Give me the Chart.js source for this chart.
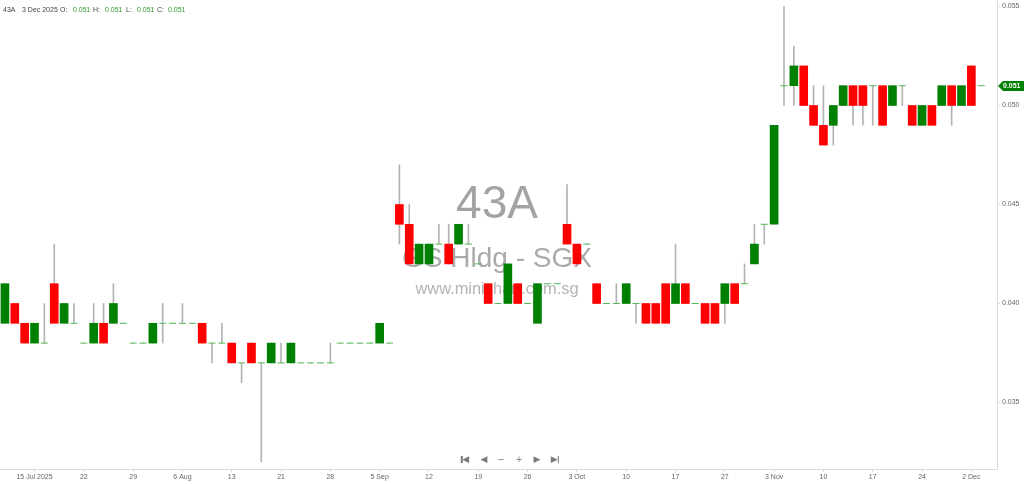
<!DOCTYPE html>
<html>
<head>
<meta charset="utf-8">
<title>43A</title>
<script src="https://cdn.jsdelivr.net/npm/chart.js@4.4.1/dist/chart.umd.min.js"></script>
<style>
    html, body { margin: 0; padding: 0; background: #fff; }
    #wrap { position: relative; width: 1024px; height: 484px; }
    .hd { position: absolute; top: 6px; line-height: 8px; font: 7px "Liberation Sans", Arial, sans-serif; color: #444; white-space: nowrap; }
    .hd.v { color: #2e9e2e; }
    .nav { position: absolute; top: 454px; line-height: 12px; font: 9px "DejaVu Sans", sans-serif; color: #7a7a7a; transform: translateX(-50%); white-space: nowrap; }
    .nav i { display: inline-block; width: 1.5px; height: 7px; background: #7a7a7a; vertical-align: -0.5px; }
</style>
</head>
<body>
<div id="wrap">
    <canvas id="chart"></canvas>
    <span class="hd" style="left:3px">43A</span>
    <span class="hd" style="left:22px">3 Dec 2025</span>
    <span class="hd" style="left:60px">O:</span>
    <span class="hd v" style="left:73px">0.051</span>
    <span class="hd" style="left:93px">H:</span>
    <span class="hd v" style="left:105px">0.051</span>
    <span class="hd" style="left:126px">L:</span>
    <span class="hd v" style="left:137px">0.051</span>
    <span class="hd" style="left:157px">C:</span>
    <span class="hd v" style="left:168px">0.051</span>
    <span class="nav" style="left:465px"><i></i>◀</span>
    <span class="nav" style="left:484px">◀</span>
    <span class="nav" style="left:501px">−</span>
    <span class="nav" style="left:519px">+</span>
    <span class="nav" style="left:537px">▶</span>
    <span class="nav" style="left:555px">▶<i></i></span>
</div>
<script>
// daily candles, 10 Jul 2025 .. 3 Dec 2025 (index = trading day)
const opens = [
    0.039, 0.040, 0.039, 0.038, 0.038, 0.041, 0.039, 0.039, 0.038, 0.038,
    0.039, 0.039, 0.039, 0.038, 0.038, 0.038, 0.039, 0.039, 0.039, 0.039,
    0.039, 0.038, 0.038, 0.038, 0.037, 0.038, 0.037, 0.037, 0.037, 0.037,
    0.037, 0.037, 0.037, 0.037, 0.038, 0.038, 0.038, 0.038, 0.038, 0.038,
    0.045, 0.044, 0.042, 0.042, 0.043, 0.043, 0.043, 0.043, 0.042, 0.041,
    0.040, 0.040, 0.041, 0.040, 0.039, 0.041, 0.041, 0.044, 0.043, 0.043,
    0.041, 0.040, 0.040, 0.040, 0.040, 0.040, 0.040, 0.041, 0.040, 0.041,
    0.040, 0.040, 0.040, 0.040, 0.041, 0.041, 0.042, 0.044, 0.044, 0.051,
    0.051, 0.052, 0.050, 0.049, 0.049, 0.050, 0.051, 0.051, 0.051, 0.051,
    0.050, 0.051, 0.050, 0.049, 0.050, 0.050, 0.051, 0.050, 0.052, 0.051
];
const highs = [
    0.041, 0.040, 0.039, 0.039, 0.040, 0.043, 0.040, 0.040, 0.038, 0.040,
    0.040, 0.041, 0.039, 0.038, 0.038, 0.039, 0.040, 0.039, 0.040, 0.039,
    0.039, 0.038, 0.039, 0.038, 0.037, 0.038, 0.037, 0.038, 0.038, 0.038,
    0.037, 0.037, 0.037, 0.038, 0.038, 0.038, 0.038, 0.038, 0.039, 0.038,
    0.047, 0.045, 0.043, 0.043, 0.044, 0.044, 0.044, 0.044, 0.042, 0.041,
    0.040, 0.042, 0.041, 0.040, 0.041, 0.041, 0.041, 0.046, 0.043, 0.043,
    0.041, 0.040, 0.041, 0.041, 0.040, 0.040, 0.040, 0.041, 0.043, 0.041,
    0.040, 0.040, 0.040, 0.041, 0.041, 0.042, 0.044, 0.044, 0.049, 0.055,
    0.053, 0.052, 0.051, 0.051, 0.050, 0.051, 0.051, 0.051, 0.051, 0.051,
    0.051, 0.051, 0.050, 0.050, 0.050, 0.051, 0.051, 0.051, 0.052, 0.051
];
const lows = [
    0.039, 0.039, 0.038, 0.038, 0.038, 0.039, 0.039, 0.039, 0.038, 0.038,
    0.038, 0.039, 0.039, 0.038, 0.038, 0.038, 0.038, 0.039, 0.039, 0.039,
    0.038, 0.037, 0.038, 0.037, 0.036, 0.037, 0.032, 0.037, 0.037, 0.037,
    0.037, 0.037, 0.037, 0.037, 0.038, 0.038, 0.038, 0.038, 0.038, 0.038,
    0.043, 0.042, 0.042, 0.042, 0.043, 0.042, 0.043, 0.043, 0.042, 0.040,
    0.040, 0.040, 0.040, 0.040, 0.039, 0.041, 0.041, 0.043, 0.042, 0.043,
    0.040, 0.040, 0.040, 0.040, 0.039, 0.039, 0.039, 0.039, 0.040, 0.040,
    0.040, 0.039, 0.039, 0.039, 0.040, 0.041, 0.042, 0.043, 0.044, 0.050,
    0.050, 0.050, 0.049, 0.048, 0.048, 0.050, 0.049, 0.049, 0.049, 0.049,
    0.050, 0.050, 0.049, 0.049, 0.049, 0.050, 0.049, 0.050, 0.050, 0.051
];
const closes = [
    0.041, 0.039, 0.038, 0.039, 0.038, 0.039, 0.040, 0.039, 0.038, 0.039,
    0.038, 0.040, 0.039, 0.038, 0.038, 0.039, 0.039, 0.039, 0.039, 0.039,
    0.038, 0.038, 0.038, 0.037, 0.037, 0.037, 0.037, 0.038, 0.037, 0.038,
    0.037, 0.037, 0.037, 0.037, 0.038, 0.038, 0.038, 0.038, 0.039, 0.038,
    0.044, 0.042, 0.043, 0.043, 0.043, 0.042, 0.044, 0.043, 0.042, 0.040,
    0.040, 0.042, 0.040, 0.040, 0.041, 0.041, 0.041, 0.043, 0.042, 0.043,
    0.040, 0.040, 0.040, 0.041, 0.040, 0.039, 0.039, 0.039, 0.041, 0.040,
    0.040, 0.039, 0.039, 0.041, 0.040, 0.041, 0.043, 0.044, 0.049, 0.051,
    0.052, 0.050, 0.049, 0.048, 0.050, 0.051, 0.050, 0.050, 0.051, 0.049,
    0.051, 0.051, 0.049, 0.050, 0.049, 0.051, 0.050, 0.051, 0.050, 0.051
];

// x axis labels (bar index -> text)
const tickIdx = [3, 8, 13, 18, 23, 28, 33, 38, 43, 48, 53, 58, 63, 68, 73, 78, 83, 88, 93, 98];
const tickText = ['15 Jul 2025', '22', '29', '6 Aug', '13', '21', '28', '5 Sep', '12', '19',
                  '26', '3 Oct', '10', '17', '27', '3 Nov', '10', '17', '24', '2 Dec'];
const yTicks = [0.035, 0.040, 0.045, 0.050, 0.055];

const colors = {
    up: '#008000',
    down: '#ff0000',
    flat: '#55b855',
    wick: '#b3b3b3',
    axis: '#dcdcdc',
    text: '#666'
};

const wickData = opens.map((o, i) => ({ x: i, y: [lows[i], highs[i]] }));
const bodyData = opens.map((o, i) => ({
    x: i,
    y: o === closes[i] ? null : [Math.min(o, closes[i]), Math.max(o, closes[i])]
}));
const bodyColors = opens.map((o, i) => closes[i] > o ? colors.up : colors.down);
const flatData = opens
    .map((o, i) => ({ x: i, y: closes[i] }))
    .filter((p, i) => opens[i] === closes[i]);

// watermark behind the candles
const watermark = {
    id: 'watermark',
    beforeDatasetsDraw(chart) {
        const ctx = chart.ctx;
        const cx = 497;
        ctx.save();
        ctx.textAlign = 'center';
        ctx.textBaseline = 'alphabetic';
        ctx.fillStyle = '#a3a3a3';
        ctx.font = '46px "Liberation Sans", Arial, sans-serif';
        ctx.fillText('43A', cx, 218);
        ctx.fillStyle = '#aaaaaa';
        ctx.font = '28px "Liberation Sans", Arial, sans-serif';
        ctx.fillText('GS Hldg - SGX', cx, 267);
        ctx.fillStyle = '#b4b4b4';
        ctx.font = '16.4px "Liberation Sans", Arial, sans-serif';
        ctx.fillText('www.minichart.com.sg', cx, 294);
        ctx.restore();
    }
};

// last price tag on the price axis
const lastTag = {
    id: 'lastTag',
    afterDraw(chart) {
        const ctx = chart.ctx;
        const yScale = chart.scales.y;
        const last = closes[closes.length - 1];
        const y = Math.round(yScale.getPixelForValue(last));
        const x0 = chart.chartArea.right;
        ctx.save();
        ctx.fillStyle = colors.up;
        ctx.beginPath();
        ctx.moveTo(x0 + 1, y);
        ctx.lineTo(x0 + 6, y - 5);
        ctx.lineTo(1024, y - 5);
        ctx.lineTo(1024, y + 5);
        ctx.lineTo(x0 + 6, y + 5);
        ctx.closePath();
        ctx.fill();
        ctx.fillStyle = '#fff';
        ctx.font = 'bold 7px "Liberation Sans", Arial, sans-serif';
        ctx.textBaseline = 'middle';
        ctx.fillText(last.toFixed(3), x0 + 6, y + 0.5);
        ctx.restore();
    }
};

const canvas = document.getElementById('chart');

new Chart(canvas, {
    type: 'bar',
    data: {
        datasets: [
            {
                label: 'wick',
                data: wickData,
                backgroundColor: colors.wick,
                barThickness: 1,
                grouped: false,
                order: 3
            },
            {
                label: 'body',
                data: bodyData,
                backgroundColor: bodyColors,
                barThickness: 8,
                grouped: false,
                order: 2
            },
            {
                type: 'scatter',
                label: 'flat',
                data: flatData,
                pointStyle: 'line',
                pointRadius: 3.5,
                pointHoverRadius: 3.5,
                borderColor: colors.flat,
                backgroundColor: colors.flat,
                borderWidth: 1,
                clip: false,
                order: 1
            }
        ]
    },
    options: {
        responsive: true,
        maintainAspectRatio: false,
        animation: false,
        layout: { padding: 0, autoPadding: false },
        plugins: {
            legend: { display: false },
            tooltip: { enabled: false }
        },
        scales: {
            x: {
                type: 'linear',
                min: -0.5,
                max: 100.6,
                offset: false,
                afterBuildTicks: scale => { scale.ticks = tickIdx.map(v => ({ value: v })); },
                afterFit: scale => {
                    scale.height = 15;
                    scale.paddingLeft = 0;
                    scale.paddingRight = 0;
                },
                grid: { display: true, offset: false, drawOnChartArea: false, drawTicks: true, tickLength: 3, color: colors.axis },
                border: { display: true, color: colors.axis },
                ticks: {
                    autoSkip: false,
                    maxRotation: 0,
                    padding: 1,
                    color: colors.text,
                    font: { family: '"Liberation Sans", Arial, sans-serif', size: 7 },
                    callback: value => tickText[tickIdx.indexOf(value)] || ''
                }
            },
            y: {
                position: 'right',
                min: 0.031641,
                max: 0.055328,
                afterBuildTicks: scale => { scale.ticks = yTicks.map(v => ({ value: v })); },
                afterFit: scale => {
                    scale.width = 27;
                    scale.paddingTop = 0;
                    scale.paddingBottom = 0;
                },
                grid: { display: true, offset: false, drawOnChartArea: false, drawTicks: true, tickLength: 3, color: colors.axis },
                border: { display: true, color: colors.axis },
                ticks: {
                    padding: 2,
                    color: colors.text,
                    font: { family: '"Liberation Sans", Arial, sans-serif', size: 7 },
                    callback: value => value.toFixed(3)
                }
            }
        }
    },
    plugins: [watermark, lastTag]
});
</script>
</body>
</html>
